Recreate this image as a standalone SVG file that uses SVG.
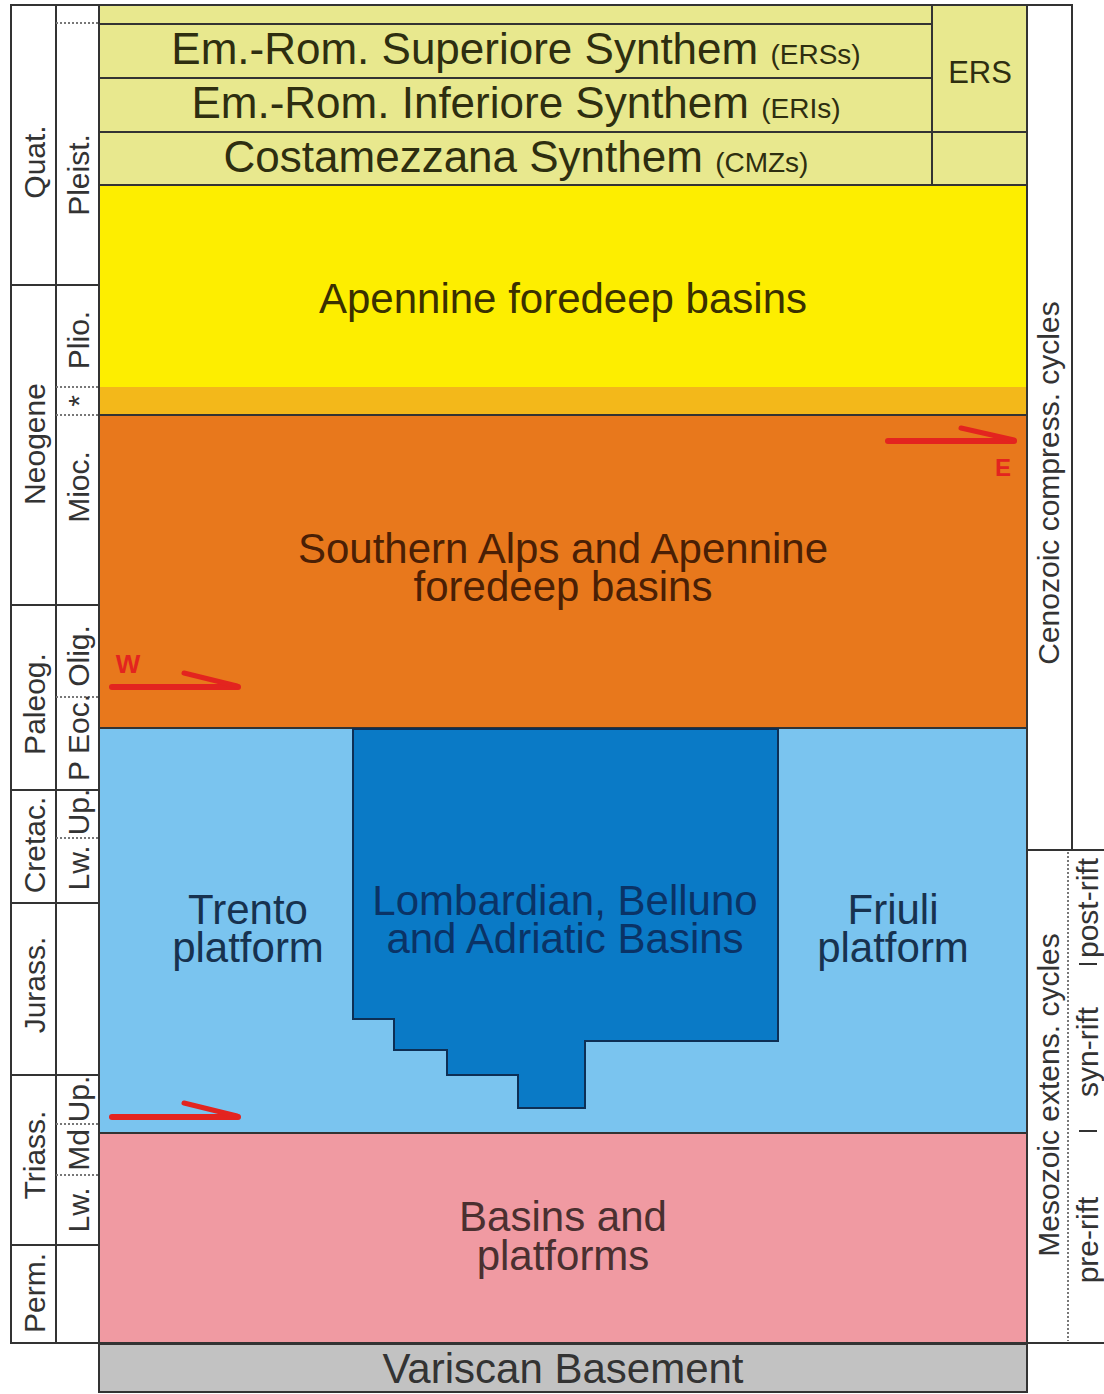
<svg xmlns="http://www.w3.org/2000/svg" width="1104" height="1394" viewBox="0 0 1104 1394">
<style>
text{font-family:"Liberation Sans",Arial,sans-serif;}
.ln{stroke:#333;stroke-width:2;}
.dot{stroke:#777;stroke-width:2;stroke-dasharray:2 2;fill:none;}
.col{font-size:30px;fill:#333;text-anchor:middle;}
.big{font-size:42px;text-anchor:middle;}
.syn{font-size:44px;fill:#2e2e10;text-anchor:middle;}
.abbr{font-size:28px;}
.arr{stroke:#e3241f;stroke-width:6;stroke-linecap:round;fill:none;}
.arrh{stroke:#e3241f;stroke-width:5;stroke-linecap:round;fill:none;}
</style>
<rect x="0" y="0" width="1104" height="1394" fill="#ffffff"/>

<g id="time-scale">
  <rect x="11" y="5" width="88" height="1338" fill="#fff" class="ln"/>
  <line x1="56" y1="5" x2="56" y2="1343" class="ln"/>
  <line x1="11" y1="285" x2="99" y2="285" class="ln"/>
  <line x1="11" y1="605" x2="99" y2="605" class="ln"/>
  <line x1="11" y1="790" x2="99" y2="790" class="ln"/>
  <line x1="11" y1="903" x2="99" y2="903" class="ln"/>
  <line x1="11" y1="1075" x2="99" y2="1075" class="ln"/>
  <line x1="11" y1="1245" x2="99" y2="1245" class="ln"/>
  <line x1="56" y1="23" x2="99" y2="23" class="dot"/>
  <line x1="56" y1="387" x2="99" y2="387" class="dot"/>
  <line x1="56" y1="415" x2="99" y2="415" class="dot"/>
  <line x1="56" y1="697" x2="99" y2="697" class="dot"/>
  <line x1="56" y1="838" x2="99" y2="838" class="dot"/>
  <line x1="56" y1="1124" x2="99" y2="1124" class="dot"/>
  <line x1="56" y1="1175" x2="99" y2="1175" class="dot"/>
  <text class="col" transform="translate(34,162) rotate(-90)" y="10.5">Quat.</text>
  <text class="col" transform="translate(34,444) rotate(-90)" y="10.5">Neogene</text>
  <text class="col" transform="translate(34,704) rotate(-90)" y="10.5">Paleog.</text>
  <text class="col" transform="translate(34,845) rotate(-90)" y="10.5">Cretac.</text>
  <text class="col" transform="translate(34,985) rotate(-90)" y="10.5">Jurass.</text>
  <text class="col" transform="translate(34,1155) rotate(-90)" y="10.5">Triass.</text>
  <text class="col" transform="translate(34,1293) rotate(-90)" y="10.5">Perm.</text>
  <text class="col" transform="translate(78,175) rotate(-90)" y="10.5">Pleist.</text>
  <text class="col" transform="translate(78,340) rotate(-90)" y="10.5">Plio.</text>
  <text class="col" transform="translate(78,401) rotate(-90)" y="10.5">*</text>
  <text class="col" transform="translate(78,487) rotate(-90)" y="10.5">Mioc.</text>
  <text class="col" transform="translate(78,656) rotate(-90)" y="10.5">Olig.</text>
  <text class="col" transform="translate(78,724) rotate(-90)" y="10.5">Eoc.</text>
  <text class="col" transform="translate(78,771) rotate(-90)" y="10.5">P</text>
  <text class="col" transform="translate(78,812) rotate(-90)" y="10.5">Up.</text>
  <text class="col" transform="translate(78,868) rotate(-90)" y="10.5">Lw.</text>
  <text class="col" transform="translate(78,1099) rotate(-90)" y="10.5">Up.</text>
  <text class="col" transform="translate(78,1150) rotate(-90)" y="10.5">Md</text>
  <text class="col" transform="translate(78,1210) rotate(-90)" y="10.5">Lw.</text>
</g>

<g id="top-row">
  <rect x="99" y="5" width="833" height="19" fill="#e8e88e" class="ln"/>
</g>
<g id="ERSs">
  <rect x="99" y="24" width="833" height="54" fill="#e8e88e" class="ln"/>
  <text class="syn" x="516" y="64">Em.-Rom. Superiore Synthem <tspan class="abbr">(ERSs)</tspan></text>
</g>
<g id="ERIs">
  <rect x="99" y="78" width="833" height="54" fill="#e8e88e" class="ln"/>
  <text class="syn" x="516" y="118">Em.-Rom. Inferiore Synthem <tspan class="abbr">(ERIs)</tspan></text>
</g>
<g id="CMZs">
  <rect x="99" y="132" width="833" height="53" fill="#e8e88e" class="ln"/>
  <text class="syn" x="516" y="172">Costamezzana Synthem <tspan class="abbr">(CMZs)</tspan></text>
</g>
<g id="ERS">
  <rect x="932" y="5" width="95" height="127" fill="#e8e88e" class="ln"/>
  <rect x="932" y="132" width="95" height="53" fill="#e8e88e" class="ln"/>
  <text x="980" y="83" font-size="31" fill="#2e2e10" text-anchor="middle">ERS</text>
</g>

<g id="apennine-foredeep">
  <rect x="99" y="185" width="928" height="230" fill="#fdee00"/>
  <rect x="99" y="387" width="928" height="28" fill="#f3b81a"/>
  <rect x="99" y="185" width="928" height="230" fill="none" class="ln"/>
  <text class="big" x="563" y="313" font-size="43" fill="#3a3000">Apennine foredeep basins</text>
</g>

<g id="southern-alps">
  <rect x="99" y="415" width="928" height="313" fill="#e8781c" class="ln"/>
  <text class="big" x="563" y="563" fill="#4a1f05">Southern Alps and Apennine</text>
  <text class="big" x="563" y="601" fill="#4a1f05">foredeep basins</text>
</g>

<g id="platforms">
  <rect x="99" y="728" width="928" height="405" fill="#7ac4ef" class="ln"/>
  <text class="big" x="248" y="924" fill="#17324f">Trento</text>
  <text class="big" x="248" y="962" fill="#17324f">platform</text>
  <text class="big" x="893" y="924" fill="#17324f">Friuli</text>
  <text class="big" x="893" y="962" fill="#17324f">platform</text>
</g>

<g id="lombardian-basins">
  <polygon points="353,729 778,729 778,1041 585,1041 585,1108 518,1108 518,1075 447,1075 447,1050 394,1050 394,1019 353,1019" fill="#0a7ac6" stroke="#0d2f55" stroke-width="2"/>
  <text class="big" x="565" y="915" fill="#0a3366">Lombardian, Belluno</text>
  <text class="big" x="565" y="953" fill="#0a3366">and Adriatic Basins</text>
</g>

<g id="basins-platforms">
  <rect x="99" y="1133" width="928" height="210" fill="#f09aa2" class="ln"/>
  <text class="big" x="563" y="1231" fill="#4a3030">Basins and</text>
  <text class="big" x="563" y="1270" fill="#4a3030">platforms</text>
</g>

<g id="variscan-basement">
  <rect x="99" y="1344" width="928" height="48" fill="#c2c2c2" class="ln"/>
  <text class="big" x="563" y="1383" fill="#333">Variscan Basement</text>
</g>

<g id="cenozoic-cycles">
  <rect x="1027" y="5" width="45" height="845" fill="#fff" class="ln"/>
  <text class="col" transform="translate(1048,483) rotate(-90)" y="10.5" font-size="31">Cenozoic compress. cycles</text>
</g>

<g id="mesozoic-cycles">
  <line x1="1027" y1="850" x2="1104" y2="850" class="ln"/>
  <line x1="1027" y1="1343" x2="1104" y2="1343" class="ln"/>
  <line x1="1027" y1="850" x2="1027" y2="1343" class="ln"/>
  <line x1="1068" y1="852" x2="1068" y2="1341" class="dot"/>
  <text class="col" transform="translate(1048,1095) rotate(-90)" y="10.5" font-size="31">Mesozoic extens. cycles</text>
  <text class="col" transform="translate(1087,1240) rotate(-90)" y="10.5" font-size="31">pre-rift</text>
  <text class="col" transform="translate(1087,1052) rotate(-90)" y="10.5" font-size="31">syn-rift</text>
  <text class="col" transform="translate(1087,908) rotate(-90)" y="10.5" font-size="31">post-rift</text>
  <line x1="1079" y1="1131" x2="1097" y2="1131" stroke="#333" stroke-width="2"/>
  <line x1="1079" y1="964" x2="1097" y2="964" stroke="#333" stroke-width="2"/>
</g>

<g id="connectors">
  <line x1="888" y1="441" x2="1014" y2="441" class="arr"/>
  <line x1="961" y1="428" x2="1014" y2="440" class="arrh"/>
  <text x="1003" y="476" font-size="24" font-weight="bold" fill="#e3241f" text-anchor="middle">E</text>
  <line x1="112" y1="687" x2="238" y2="687" class="arr"/>
  <line x1="184" y1="673" x2="237" y2="686" class="arrh"/>
  <text x="128" y="673" font-size="26" font-weight="bold" fill="#e3241f" text-anchor="middle">W</text>
  <line x1="112" y1="1117" x2="238" y2="1117" class="arr"/>
  <line x1="184" y1="1103" x2="237" y2="1116" class="arrh"/>
</g>
</svg>
